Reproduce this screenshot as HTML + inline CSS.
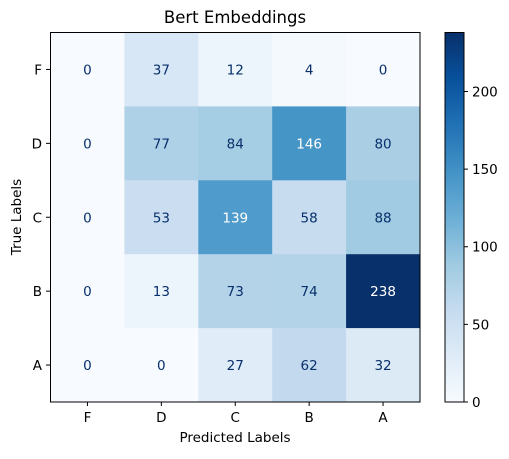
<!DOCTYPE html>
<html><head><meta charset="utf-8"><style>
body{margin:0;background:#fff;font-family:"DejaVu Sans","Liberation Sans",sans-serif}
svg text{font-family:"DejaVu Sans","Liberation Sans",sans-serif}
</style></head><body>
<svg id="chart" width="509" height="455" viewBox="0 0 509 455">
<defs><linearGradient id="cb" x1="0" y1="1" x2="0" y2="0">
<stop offset="0" stop-color="#f7fbff"/><stop offset="0.125" stop-color="#deebf7"/><stop offset="0.25" stop-color="#c6dbef"/><stop offset="0.375" stop-color="#9ecae1"/><stop offset="0.5" stop-color="#6baed6"/><stop offset="0.625" stop-color="#4292c6"/><stop offset="0.75" stop-color="#2171b5"/><stop offset="0.875" stop-color="#08519c"/><stop offset="1" stop-color="#08306b"/>
</linearGradient></defs>
<text x="235" y="23" font-size="16.5" text-anchor="middle">Bert Embeddings</text>
<g id="cells"></g>
<rect x="50.5" y="32.5" width="369.5" height="369.5" fill="none" stroke="#000" stroke-width="1"/>
<g id="axes"></g>
<text x="235" y="442" font-size="13.5" text-anchor="middle">Predicted Labels</text>
<text transform="translate(21,217) rotate(-90)" font-size="13.5" text-anchor="middle">True Labels</text>
<rect x="445" y="32.5" width="19" height="369.5" fill="url(#cb)" stroke="#000" stroke-width="1"/>
<g id="cbticks"></g>
</svg>
<script>
const rowLabels=["F","D","C","B","A"];
const colLabels=["F","D","C","B","A"];
const rowF=[0,37,12,4,0];
const rowD=[0,77,84,146,80];
const rowC=[0,53,139,58,88];
const rowB=[0,13,73,74,238];
const rowA=[0,0,27,62,32];
const cbTicks=[0,50,100,150,200];
const matrix=[rowF,rowD,rowC,rowB,rowA];
const NS="http://www.w3.org/2000/svg";
const L=50.5,T=32.5,W=369.5,H=369.5,FS="13.5";
const vmax=Math.max(...matrix.flat()),vmin=Math.min(...matrix.flat());
const cw=W/colLabels.length,ch=H/rowLabels.length;
const xs=i=>L+i*cw, ys=j=>T+j*ch;
const stops=["#f7fbff","#deebf7","#c6dbef","#9ecae1","#6baed6","#4292c6","#2171b5","#08519c","#08306b"].map(h=>[1,3,5].map(k=>parseInt(h.substr(k,2),16)));
function color(v){let t=(v-vmin)/(vmax-vmin)*8;let i=Math.min(7,Math.floor(t));let f=t-i;const a=stops[i],b=stops[i+1];return `rgb(${a.map((c,k)=>Math.round(c+(b[k]-c)*f)).join(",")})`;}
const cells=document.getElementById("cells");
matrix.forEach((row,j)=>row.forEach((v,i)=>{
 const r=document.createElementNS(NS,"rect");
 r.setAttribute("x",xs(i));r.setAttribute("y",ys(j));r.setAttribute("width",cw+0.5);r.setAttribute("height",ch+0.5);r.setAttribute("fill",color(v));
 
 
 cells.appendChild(r);
 const t=document.createElementNS(NS,"text");
 t.setAttribute("x",xs(i)+cw/2);t.setAttribute("y",ys(j)+ch/2+5);t.setAttribute("text-anchor","middle");t.setAttribute("font-size",FS);
 t.setAttribute("fill",v>(vmax+vmin)/2?"#fff":"#08306b");t.textContent=v;
 
 
 cells.appendChild(t);
}));
const axes=document.getElementById("axes");
colLabels.forEach((l,i)=>{
 const x=xs(i)+cw/2;
 const ln=document.createElementNS(NS,"line");ln.setAttribute("x1",x);ln.setAttribute("x2",x);ln.setAttribute("y1",402);ln.setAttribute("y2",406);ln.setAttribute("stroke","#000");
 
 
 axes.appendChild(ln);
 const t=document.createElementNS(NS,"text");t.setAttribute("x",x);t.setAttribute("y",422);t.setAttribute("text-anchor","middle");t.setAttribute("font-size",FS);t.textContent=l;
 
 
 axes.appendChild(t);
});
rowLabels.forEach((l,j)=>{
 const y=ys(j)+ch/2;
 const ln=document.createElementNS(NS,"line");ln.setAttribute("x1",46);ln.setAttribute("x2",50.5);ln.setAttribute("y1",y);ln.setAttribute("y2",y);ln.setAttribute("stroke","#000");
 
 
 axes.appendChild(ln);
 const t=document.createElementNS(NS,"text");t.setAttribute("x",42);t.setAttribute("y",y+5);t.setAttribute("text-anchor","end");t.setAttribute("font-size",FS);t.textContent=l;
 
 
 axes.appendChild(t);
});
const cbg=document.getElementById("cbticks");
cbTicks.forEach(v=>{
 const y=T+H-(v-vmin)/(vmax-vmin)*H;
 const ln=document.createElementNS(NS,"line");ln.setAttribute("x1",464);ln.setAttribute("x2",468);ln.setAttribute("y1",y);ln.setAttribute("y2",y);ln.setAttribute("stroke","#000");
 
 
 cbg.appendChild(ln);
 const t=document.createElementNS(NS,"text");t.setAttribute("x",472);t.setAttribute("y",y+5);t.setAttribute("font-size",FS);t.textContent=v;
 
 
 cbg.appendChild(t);
});
</script>
</body></html>
